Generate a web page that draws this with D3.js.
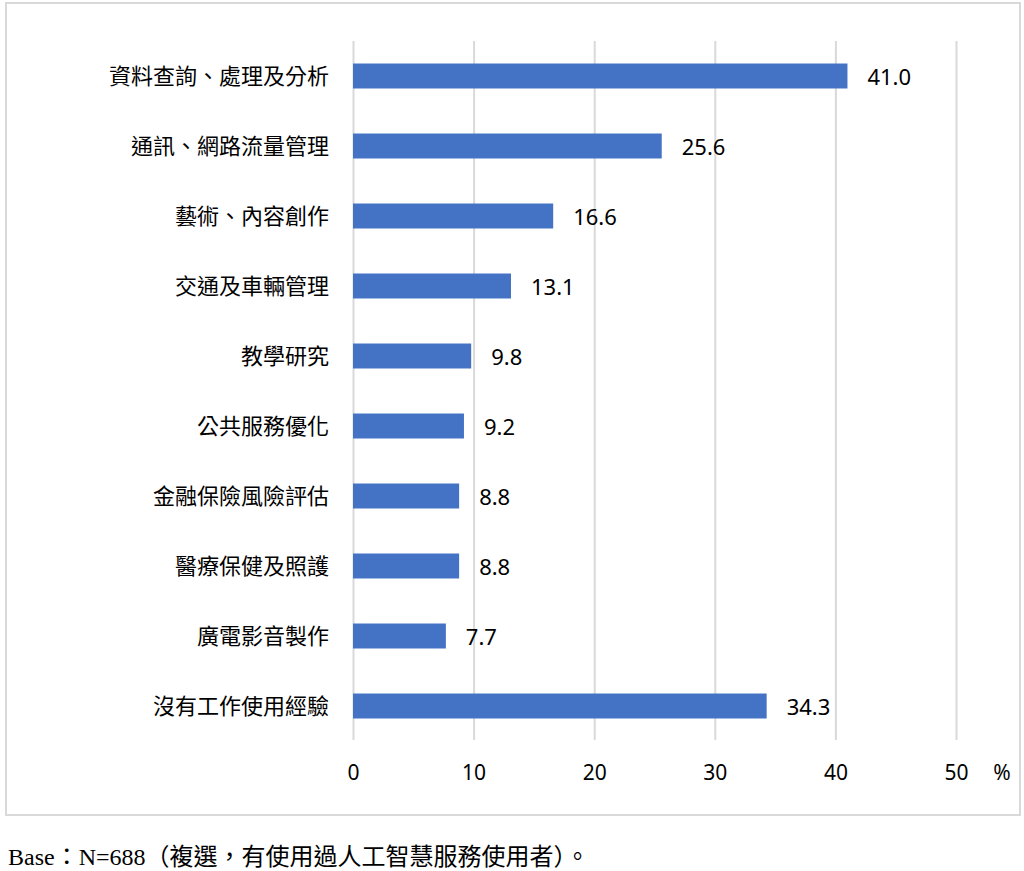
<!DOCTYPE html>
<html>
<head>
<meta charset="utf-8">
<script src="https://cdn.jsdelivr.net/npm/d3@7/dist/d3.min.js"></script>
<style>
  html, body { margin: 0; padding: 0; background: #fff; }
  svg { display: block; }
</style>
</head>
<body>
<svg id="chart" width="1024" height="871"></svg>
<script>
const categories = [
  "資料查詢、處理及分析",
  "通訊、網路流量管理",
  "藝術、內容創作",
  "交通及車輛管理",
  "教學研究",
  "公共服務優化",
  "金融保險風險評估",
  "醫療保健及照護",
  "廣電影音製作",
  "沒有工作使用經驗"
];
const values = [41.0, 25.6, 16.6, 13.1, 9.8, 9.2, 8.8, 8.8, 7.7, 34.3];
const tickValues = [0, 10, 20, 30, 40, 50];
const unitLabel = "%";
const footnote = "Base：N=688（複選，有使用過人工智慧服務使用者）。";

const svg = d3.select("#chart");
const barColor = "#4472C4";
const gridColor = "#d9d9d9";
const cjkFont = "'Noto Sans CJK TC', 'Noto Sans CJK SC', sans-serif";
const numFont = "'Noto Sans', 'Open Sans', sans-serif";

// outer border
svg.append("rect")
  .attr("x", 6).attr("y", 3).attr("width", 1014).attr("height", 812)
  .attr("fill", "#fff").attr("stroke", gridColor).attr("stroke-width", 2);

const x = d3.scaleLinear().domain([0, 50]).range([353, 956]);
const y = d3.scaleBand().domain(categories).range([41, 741])
  .paddingInner(0.643).paddingOuter(0.3215);

// gridlines + tick labels via axis
const axis = d3.axisBottom(x).tickValues(tickValues).tickSize(-699).tickFormat(d3.format("d"));
const gAxis = svg.append("g").attr("transform", "translate(0,740)").call(axis);
gAxis.select(".domain").remove();
gAxis.selectAll(".tick line").attr("stroke", gridColor).attr("stroke-width", 2);
gAxis.selectAll(".tick text")
  .attr("y", 32.5).attr("dy", "0.35em")
  .attr("font-family", numFont).attr("font-size", 21).attr("fill", "#000");

svg.append("text")
  .attr("x", 1002).attr("y", 772.5).attr("dy", "0.35em")
  .attr("text-anchor", "middle")
  .attr("font-family", numFont).attr("font-size", 21).attr("fill", "#000")
  .text(unitLabel);

// bars
const data = categories.map((c, i) => ({ c, v: values[i] }));
svg.append("g").selectAll("rect").data(data).join("rect")
  .attr("x", x(0))
  .attr("y", d => y(d.c))
  .attr("width", d => x(d.v) - x(0))
  .attr("height", y.bandwidth())
  .attr("fill", barColor);

// value labels
svg.append("g").selectAll("text").data(data).join("text")
  .attr("x", d => x(d.v) + 20)
  .attr("y", d => y(d.c) + y.bandwidth() / 2 + 1.5)
  .attr("dy", "0.35em")
  .attr("font-family", numFont).attr("font-size", 22).attr("fill", "#000")
  .text(d => d.v.toFixed(1));

// category labels
svg.append("g").selectAll("text").data(data).join("text")
  .attr("x", 329)
  .attr("y", d => y(d.c) + y.bandwidth() / 2)
  .attr("dy", "0.35em")
  .attr("text-anchor", "end")
  .attr("font-family", cjkFont).attr("font-size", 22).attr("fill", "#000")
  .text(d => d.c);

// footnote
svg.append("text")
  .attr("x", 8).attr("y", 865)
  .attr("font-family", "'Liberation Serif', 'Noto Sans CJK TC', serif")
  .attr("font-size", 24).attr("fill", "#000")
  .text(footnote);
</script>
</body>
</html>
